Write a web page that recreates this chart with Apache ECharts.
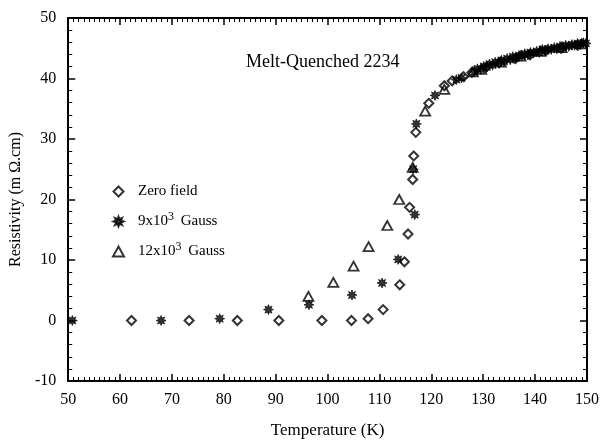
<!DOCTYPE html>
<html>
<head>
<meta charset="utf-8">
<script src="https://cdn.jsdelivr.net/npm/echarts@6/dist/echarts.min.js"></script>
<style>
  html, body { margin: 0; padding: 0; background: #fff; }
  #chart { width: 602px; height: 444px; }
</style>
</head>
<body>
<div id="chart"></div>
<script>
// Temperature (K), resistivity (mOhm.cm)
const zeroField = [
  [62.2, 0], [73.3, 0], [82.6, 0], [90.6, 0], [98.9, 0], [104.6, 0],
  [107.8, 0.3], [110.7, 1.8], [113.9, 5.9], [114.8, 9.7], [115.5, 14.3],
  [115.8, 18.7], [116.4, 23.3], [116.6, 27.2], [117.0, 31.1], [119.5, 35.9],
  [122.5, 38.8], [124.0, 39.6], [126.2, 40.3], [127.8, 41.0], [130.6, 41.9],
  [133.1, 42.6], [136.2, 43.3], [139.0, 43.9], [142.1, 44.6], [145.0, 45.0],
  [148.2, 45.5]
];
const gauss9k = [
  [50.8, 0], [67.9, 0], [79.2, 0.3], [88.6, 1.8], [96.4, 2.6], [104.7, 4.2],
  [110.5, 6.2], [113.6, 10.1], [116.8, 17.5], [116.5, 25.0], [117.1, 32.5],
  [120.7, 37.2], [124.8, 39.8], [125.8, 40.1], [128.3, 41.1], [128.9, 41.6],
  [129.5, 41.5], [130.1, 42.0], [130.7, 41.9], [131.2, 42.4], [131.8, 42.2],
  [132.3, 42.7], [132.9, 42.6], [133.5, 43.0], [134.0, 42.8], [134.6, 43.3],
  [135.2, 43.1], [135.7, 43.6], [136.3, 43.4], [136.9, 43.8], [137.4, 43.7],
  [138.0, 44.1], [138.6, 43.9], [139.1, 44.3], [139.7, 44.2], [140.3, 44.5],
  [140.8, 44.3], [141.4, 44.8], [142.0, 44.6], [142.5, 44.9], [143.1, 44.8],
  [143.7, 45.1], [144.2, 44.9], [144.8, 45.3], [145.4, 45.1], [145.9, 45.5],
  [146.5, 45.3], [147.1, 45.6], [147.6, 45.5], [148.2, 45.8], [148.8, 45.6],
  [149.3, 45.9], [149.8, 45.8]
];
const gauss12k = [
  [96.3, 4.0], [101.1, 6.3], [105.0, 9.0], [107.9, 12.2], [111.5, 15.7],
  [113.8, 20.0], [116.4, 25.3], [118.8, 34.6], [122.5, 38.2], [128.0, 41.1],
  [129.6, 41.5], [133.4, 42.7], [137.2, 43.7], [141.0, 44.5], [145.1, 45.1],
  [149.0, 45.7]
];
const seriesNames = ['Zero field', '9x10^3 Gauss', '12x10^3 Gauss'];
const xTicks = { min: 50, max: 150, interval: 10 };
const yTicks = { min: -10, max: 50, interval: 10 };

const font = 'Liberation Serif';

// chunky 8-point asterisk
let starPath = 'path://';
for (let i = 0; i < 16; i++) {
  const a = Math.PI * i / 8;
  const r = i % 2 === 0 ? 10 : 5.2;
  starPath += (i === 0 ? 'M' : 'L') + (r * Math.sin(a)).toFixed(2) + ',' + (-r * Math.cos(a)).toFixed(2);
}
starPath += 'Z';

const axisCommon = {
  type: 'value',
  splitLine: { show: false },
  axisLine: { show: true, onZero: false, lineStyle: { color: '#000', width: 2 } },
  axisTick: { show: true, inside: true, length: 7, lineStyle: { color: '#000', width: 1.5 } },
  minorTick: { show: true, length: 4, lineStyle: { color: '#000', width: 1 } },
  axisLabel: { color: '#000', fontFamily: font, fontSize: 16 }
};

const chart = echarts.init(document.getElementById('chart'));
chart.setOption({
  animation: false,
  backgroundColor: '#fff',
  grid: { left: 63, right: 15, top: 18, bottom: 60 },
  title: {
    text: 'Melt-Quenched 2234',
    left: 241, top: 48,
    textStyle: { fontFamily: font, fontSize: 18, fontWeight: 'normal', color: '#000' }
  },
  legend: {
    orient: 'vertical',
    left: 107, top: 176,
    itemGap: 9,
    itemWidth: 11, itemHeight: 10,
    data: seriesNames,
    formatter: name => name.replace('^3', '{sup|3}'),
    textStyle: {
      fontFamily: font, fontSize: 15, lineHeight: 21, color: '#000', padding: [0, 0, 0, 9],
      rich: { sup: { fontFamily: font, fontSize: 12, lineHeight: 12, color: '#000', verticalAlign: 'top', padding: [0, 3, 0, 0] } }
    }
  },
  xAxis: [
    Object.assign({}, axisCommon, xTicks, {
      minorTick: Object.assign({}, axisCommon.minorTick, { splitNumber: 10 }),
      name: 'Temperature (K)', nameLocation: 'middle', nameGap: 41,
      nameTextStyle: { fontFamily: font, fontSize: 17, color: '#000' },
      axisLabel: Object.assign({}, axisCommon.axisLabel, { margin: 11 })
    }),
    Object.assign({}, axisCommon, xTicks, {
      position: 'top',
      minorTick: Object.assign({}, axisCommon.minorTick, { splitNumber: 10 }),
      axisLabel: { show: false }
    })
  ],
  yAxis: [
    Object.assign({}, axisCommon, yTicks, {
      minorTick: Object.assign({}, axisCommon.minorTick, { splitNumber: 5 }),
      name: 'Resistivity (m Ω.cm)', nameLocation: 'middle', nameGap: 33, nameRotate: 90,
      nameTextStyle: { fontFamily: font, fontSize: 16, color: '#000' },
      axisLabel: Object.assign({}, axisCommon.axisLabel, { margin: 12 })
    }),
    Object.assign({}, axisCommon, yTicks, {
      position: 'right',
      minorTick: Object.assign({}, axisCommon.minorTick, { splitNumber: 5 }),
      axisLabel: { show: false }
    })
  ],
  series: [
    {
      name: seriesNames[1], type: 'scatter', data: gauss9k,
      symbol: starPath, symbolSize: 10,
      itemStyle: { color: '#000', borderColor: '#000', borderWidth: 0.8 },
      z: 2
    },
    {
      name: seriesNames[2], type: 'scatter', data: gauss12k,
      symbol: 'triangle', symbolSize: [10, 9],
      itemStyle: { color: 'transparent', borderColor: '#000', borderWidth: 1.8 },
      z: 3
    },
    {
      name: seriesNames[0], type: 'scatter', data: zeroField,
      symbol: 'path://M0,-10L10,0L0,10L-10,0Z', symbolSize: 9,
      itemStyle: { color: 'transparent', borderColor: '#000', borderWidth: 2 },
      z: 4
    }
  ]
});
</script>
</body>
</html>
